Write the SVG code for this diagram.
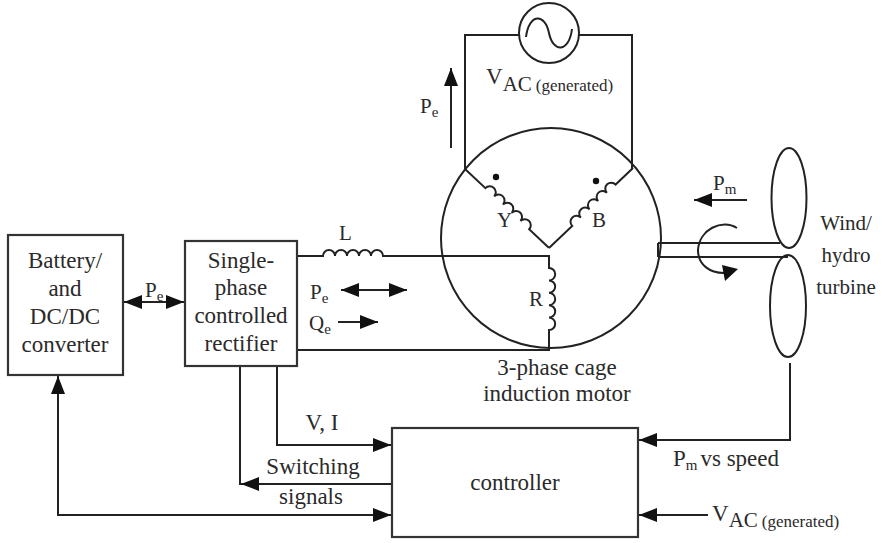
<svg xmlns="http://www.w3.org/2000/svg" width="882" height="543" viewBox="0 0 882 543" font-family="Liberation Serif, DejaVu Serif, serif">
  <style>
    .ln { fill: none; stroke: #222; stroke-width: 2; }
    .box { fill: #fff; stroke: #333; stroke-width: 2.2; }
    text { fill: #2a2a2a; }
    .big { font-size: 23px; }
    .mid { font-size: 21px; }
    .sub { font-size: 15px; }
    .gen { font-size: 17px; }
  </style>
  <defs>
    <marker id="ah" markerUnits="userSpaceOnUse" markerWidth="19" markerHeight="14" refX="18" refY="7" orient="auto-start-reverse">
      <path d="M0,0 L18,7 L0,14 z" fill="#111"/>
    </marker>
  </defs>

  <rect width="882" height="543" fill="#fff"/>

  <!-- connectors -->
  <g id="connectors">
    <!-- battery <-> rectifier power flow -->
    <line class="ln" x1="124" y1="302" x2="184" y2="302" marker-start="url(#ah)" marker-end="url(#ah)"/>
    <!-- rectifier to R phase through L -->
    <path class="ln" d="M297,256 H323 a6,6 0 0 1 12,0 a6,6 0 0 1 12,0 a6,6 0 0 1 12,0 a6,6 0 0 1 12,0 a6,6 0 0 1 12,0 H549 V268 a6,6 0 0 1 0,12.4 a6,6 0 0 1 0,12.4 a6,6 0 0 1 0,12.4 a6,6 0 0 1 0,12.4 a6,6 0 0 1 0,12.4 V350 H297"/>
    <!-- Pe / Qe flow arrows -->
    <line class="ln" x1="341" y1="290" x2="407" y2="290" marker-start="url(#ah)" marker-end="url(#ah)"/>
    <line class="ln" x1="338" y1="322" x2="378" y2="322" marker-end="url(#ah)"/>
    <!-- V, I measurement -->
    <path class="ln" d="M277,366 V445 H391" marker-end="url(#ah)"/>
    <!-- switching signals -->
    <path class="ln" d="M391,484 H241" marker-end="url(#ah)"/>
    <line class="ln" x1="240" y1="366" x2="240" y2="485"/>
    <!-- battery to controller -->
    <path class="ln" d="M391,515 H58 V376" marker-start="url(#ah)" marker-end="url(#ah)"/>
    <!-- Pm vs speed feedback -->
    <path class="ln" d="M790,363 V440 H639" marker-end="url(#ah)"/>
    <!-- generated voltage feedback -->
    <line class="ln" x1="708" y1="515" x2="639" y2="515" marker-end="url(#ah)"/>
    <!-- generated power arrow -->
    <line class="ln" x1="451" y1="148" x2="451" y2="68" marker-end="url(#ah)"/>
    <!-- mechanical power arrow -->
    <line class="ln" x1="747" y1="200" x2="694" y2="200" marker-end="url(#ah)"/>
  </g>

  <!-- battery and DC/DC converter -->
  <g id="battery">
    <rect class="box" x="8" y="235" width="115" height="140"/>
    <text class="big" text-anchor="middle" x="65" y="268">Battery/</text>
    <text class="big" text-anchor="middle" x="65" y="296">and</text>
    <text class="big" text-anchor="middle" x="65" y="324">DC/DC</text>
    <text class="big" text-anchor="middle" x="65" y="352">converter</text>
  </g>
  <text class="mid" x="145" y="297">P<tspan class="sub" dy="4">e</tspan></text>

  <!-- single-phase controlled rectifier -->
  <g id="rectifier">
    <rect class="box" x="185" y="241" width="112" height="125"/>
    <text class="big" text-anchor="middle" x="241" y="268">Single-</text>
    <text class="big" text-anchor="middle" x="241" y="295">phase</text>
    <text class="big" text-anchor="middle" x="241" y="323">controlled</text>
    <text class="big" text-anchor="middle" x="241" y="351">rectifier</text>
  </g>
  <text class="mid" x="339" y="240">L</text>
  <text class="mid" x="310" y="299">P<tspan class="sub" dy="4">e</tspan></text>
  <text class="mid" x="309" y="330">Q<tspan class="sub" dy="4">e</tspan></text>

  <!-- 3-phase cage induction motor -->
  <g id="motor">
    <circle class="ln" cx="551" cy="238" r="110"/>
    <!-- Y phase winding -->
    <g transform="translate(465,169) rotate(43.2)">
      <path class="ln" d="M0,0 H28 a6,6 0 0 1 12,0 a6,6 0 0 1 12,0 a6,6 0 0 1 12,0 a6,6 0 0 1 12,0 a6,6 0 0 1 12,0 H115"/>
    </g>
    <!-- B phase winding -->
    <g transform="translate(549,248) rotate(-43.6)">
      <path class="ln" d="M0,0 H32 a6,6 0 0 1 12,0 a6,6 0 0 1 12,0 a6,6 0 0 1 12,0 a6,6 0 0 1 12,0 a6,6 0 0 1 12,0 H116"/>
    </g>
    <circle cx="496" cy="177" r="3.2" fill="#111"/>
    <circle cx="596" cy="181" r="3.2" fill="#111"/>
    <text class="mid" x="497" y="227">Y</text>
    <text class="mid" x="592" y="227">B</text>
    <text class="mid" x="529" y="306">R</text>
    <text class="big" text-anchor="middle" x="557" y="375">3-phase cage</text>
    <text class="big" text-anchor="middle" x="557" y="401">induction motor</text>
  </g>

  <!-- generated AC output -->
  <g id="ac-source">
    <path class="ln" d="M465,169 V35 H519 M579,35 H632 V169"/>
    <circle class="ln" cx="549" cy="33" r="30"/>
    <path class="ln" d="M526,37 C529,13 545,13 549,33 C553,53 569,53 572,29"/>
    <text class="big" x="486" y="84">V<tspan class="mid" dy="7">AC</tspan><tspan class="gen" dx="4">(generated)</tspan></text>
  </g>
  <text class="mid" x="420" y="113">P<tspan class="sub" dy="4">e</tspan></text>

  <!-- shaft and turbine -->
  <g id="turbine">
    <path class="ln" d="M658,243 H780 M658,257 H788 M658,243 V257"/>
    <ellipse class="ln" cx="789" cy="198" rx="17.5" ry="50"/>
    <ellipse class="ln" cx="788" cy="306" rx="18" ry="51"/>
    <path class="ln" d="M737,228 C722,218 699,230 698,250 C698,265 710,273 724,273"/>
    <path d="M738,269 L722,265 L725,281 z" fill="#111"/>
    <text class="mid" text-anchor="middle" x="846" y="230">Wind/</text>
    <text class="mid" text-anchor="middle" x="846" y="262">hydro</text>
    <text class="mid" text-anchor="middle" x="846" y="294">turbine</text>
  </g>
  <text class="mid" x="713" y="190">P<tspan class="sub" dy="4">m</tspan></text>

  <!-- controller -->
  <g id="controller">
    <rect class="box" x="392" y="428" width="246" height="109"/>
    <text class="big" text-anchor="middle" x="515" y="490">controller</text>
  </g>
  <text class="big" text-anchor="middle" x="322" y="430">V, I</text>
  <text class="big" text-anchor="middle" x="313" y="474">Switching</text>
  <text class="big" text-anchor="middle" x="311" y="504">signals</text>
  <text class="big" x="673" y="466">P<tspan class="sub" dy="4">m</tspan><tspan dy="-4" dx="3">vs speed</tspan></text>
  <text class="big" x="712" y="521">V<tspan class="mid" dy="6">AC</tspan><tspan class="gen" dx="4">(generated)</tspan></text>
</svg>
